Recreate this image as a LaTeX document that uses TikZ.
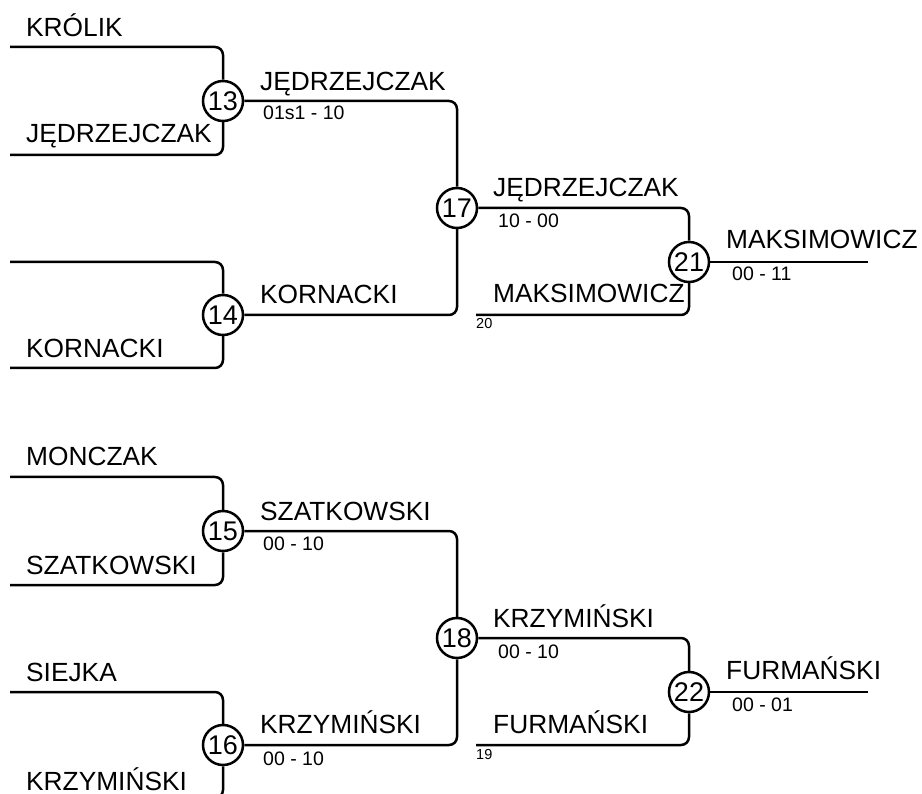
\documentclass[tikz,border=0pt]{standalone}
\usepackage{fontspec}
\setmainfont{Liberation Sans}
\begin{document}
\begin{tikzpicture}[x=1pt,y=-1pt,
  conn/.style={line width=2.5pt, rounded corners=8pt},
  match/.style={circle, draw, line width=2.5pt, fill=white, minimum size=40pt, inner sep=0pt, font=\fontsize{27}{27}\selectfont},
  player/.style={anchor=base west, inner sep=0pt, font=\fontsize{26.3}{27}\selectfont},
  score/.style={anchor=base west, inner sep=0pt, font=\fontsize{19.5}{20}\selectfont},
  seed/.style={anchor=base west, inner sep=0pt, font=\fontsize{14.5}{15}\selectfont}]
\useasboundingbox (0,0) rectangle (922,794);
\clip (0,0) rectangle (922,794);
% ---------- top half ----------
\coordinate (s1) at (10,47);
\coordinate (s2) at (10,155);
\coordinate (s3) at (10,262);
\coordinate (s4) at (10,368);
\coordinate (s20) at (476,315);
\coordinate (e21) at (868,262);
\node[match] (m13) at (223,101) {13};
\node[match] (m14) at (223,315) {14};
\node[match] (m17) at (457,208) {17};
\node[match] (m21) at (689,262) {21};
\draw[conn] (s1) -| (m13);
\draw[conn] (s2) -| (m13);
\draw[conn] (s3) -| (m14);
\draw[conn] (s4) -| (m14);
\draw[conn] (m13) -| (m17);
\draw[conn] (m14) -| (m17);
\draw[conn] (m17) -| (m21);
\draw[conn] (s20) -| (m21);
\draw[conn] (m21) -- (e21);
\node[player] (t1) at (26,37) {KRÓLIK};
\node[player] (t2) at (26,143) {JĘDRZEJCZAK};
\node[player] (t3) at (26,358) {KORNACKI};
\node[player] (t4) at (260,91) {JĘDRZEJCZAK};
\node[score] (t5) at (263,120) {01s1 - 10};
\node[player] (t6) at (260,304) {KORNACKI};
\node[player] (t7) at (493,197) {JĘDRZEJCZAK};
\node[score] (t8) at (498,228) {10 - 00};
\node[player] (t9) at (493,303) {MAKSIMOWICZ};
\node[seed] (t10) at (476,329) {20};
\node[player] (t11) at (726,249) {MAKSIMOWICZ};
\node[score] (t12) at (732,281) {00 - 11};
% ---------- bottom half ----------
\coordinate (b1) at (10,477);
\coordinate (b2) at (10,585);
\coordinate (b3) at (10,692);
\coordinate (b4) at (10,798);
\coordinate (s19) at (476,745);
\coordinate (e22) at (868,692);
\node[match] (m15) at (223,531) {15};
\node[match] (m16) at (223,745) {16};
\node[match] (m18) at (457,638) {18};
\node[match] (m22) at (689,692) {22};
\draw[conn] (b1) -| (m15);
\draw[conn] (b2) -| (m15);
\draw[conn] (b3) -| (m16);
\draw[conn] (b4) -| (m16);
\draw[conn] (m15) -| (m18);
\draw[conn] (m16) -| (m18);
\draw[conn] (m18) -| (m22);
\draw[conn] (s19) -| (m22);
\draw[conn] (m22) -- (e22);
\node[player] (u1) at (26,466) {MONCZAK};
\node[player] (u2) at (26,574) {SZATKOWSKI};
\node[player] (u3) at (26,681) {SIEJKA};
\node[player] (u4) at (26,790) {KRZYMIŃSKI};
\node[player] (u5) at (260,521) {SZATKOWSKI};
\node[score] (u6) at (263,550) {00 - 10};
\node[player] (u7) at (260,733) {KRZYMIŃSKI};
\node[score] (u8) at (263,765) {00 - 10};
\node[player] (u9) at (493,627) {KRZYMIŃSKI};
\node[score] (u10) at (498,658) {00 - 10};
\node[player] (u11) at (493,733) {FURMAŃSKI};
\node[seed] (u12) at (476,759) {19};
\node[player] (u13) at (726,679) {FURMAŃSKI};
\node[score] (u14) at (732,711) {00 - 01};
\end{tikzpicture}
\end{document}
